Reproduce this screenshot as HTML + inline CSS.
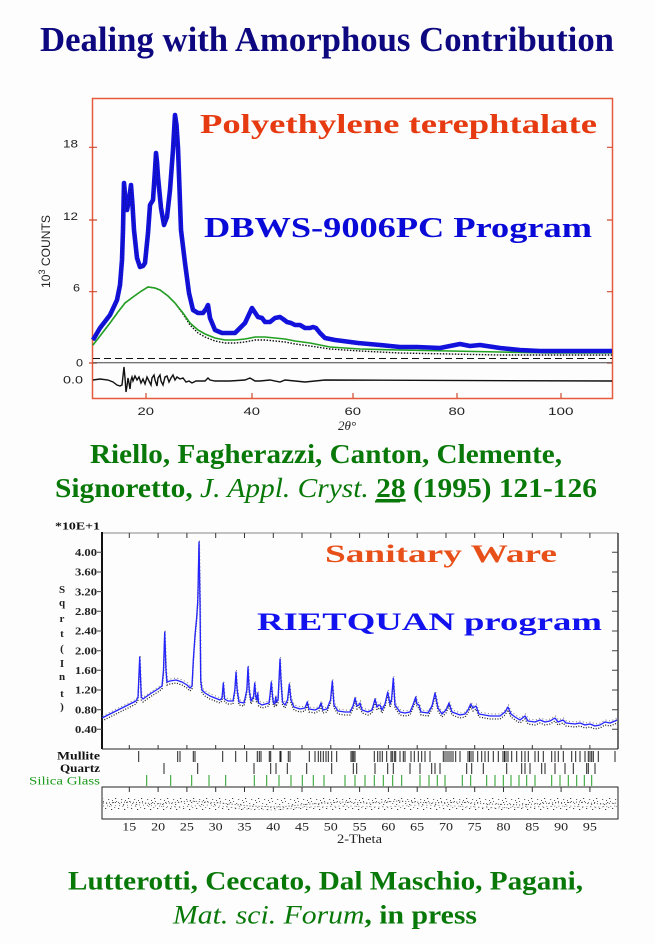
<!DOCTYPE html>
<html>
<head>
<meta charset="utf-8">
<style>
  html,body{margin:0;padding:0;background:#fdfdfd;}
  svg{display:block;}
  .serif{font-family:"Liberation Serif","Times New Roman",serif;}
  .sans{font-family:"Liberation Sans",Arial,sans-serif;}
</style>
</head>
<body>
<svg width="655" height="944" viewBox="0 0 655 944" xmlns="http://www.w3.org/2000/svg">
  <defs>
    <pattern id="noise" x="0" y="0" width="13" height="13" patternUnits="userSpaceOnUse">
      <rect x="1" y="2" width="1.2" height="1" fill="#444"/>
      <rect x="4" y="6" width="1.2" height="1" fill="#666"/>
      <rect x="7" y="3" width="1.2" height="1" fill="#333"/>
      <rect x="9" y="9" width="1.2" height="1" fill="#555"/>
      <rect x="11" y="5" width="1.2" height="1" fill="#444"/>
      <rect x="2" y="10" width="1.2" height="1" fill="#777"/>
      <rect x="6" y="11" width="1.2" height="1" fill="#555"/>
      <rect x="10" y="1" width="1.2" height="1" fill="#888"/>
      <rect x="5" y="0" width="1.2" height="1" fill="#999"/>
      <rect x="12" y="8" width="1" height="1" fill="#666"/>
      <rect x="8" y="7" width="1" height="1" fill="#555"/>
    </pattern>
    <path id="calc" d="M102,718 L110,714 L120,709 L130,704 L136,701 L138,697 L139.7,657 L141.3,697 L143,699 L150,694 L158,689 L162,686 L163.5,670 L164.7,632 L166,670 L167,682 L170,681 L176,680 L182,682 L187,685 L190,688 L192,686 L193.3,660 L195,635 L196.7,617 L197.8,600 L199,542 L200,600 L200.7,680 L202,690 L205,693 L210,696 L215,698 L220,700 L222,698 L223.3,683 L224.6,699 L228,701 L233,701 L234.8,690 L236,672 L237.2,690 L239,702 L244,703 L246.8,690 L248,667 L249.2,690 L251,701 L253.5,697 L254.7,683 L255.9,697 L256.8,700 L257.7,693 L258.6,703 L262,705 L269,703 L270,695 L271.3,682 L272.6,697 L273.5,703 L274.8,704 L275.7,697 L276.6,702 L278,700 L279,680 L280,659 L281,680 L282.5,702 L285,705 L287.5,700 L289.3,684 L291,700 L294,707 L300,709 L305,708 L307.3,702 L309,709 L315,710 L319,708 L321,703 L323,710 L327,709 L329.3,703 L330.5,700 L332.3,681 L334,705 L338,711 L345,712 L350,712 L353,706 L355,698 L357,706 L359,705 L360,703 L362,710 L368,712 L372,710 L375,699 L377,707 L379,705 L380,705 L382,710 L385,704 L387.7,692 L390,704 L391.5,700 L393.3,678 L395,705 L400,712 L405,713 L410,712 L413,705 L415.7,697 L417,704 L419,705 L421,712 L428,713 L432,706 L435,693 L438,708 L442,714 L446,710 L449,703 L452,712 L460,715 L465,714 L468,710 L470.7,704 L473,708 L476,706 L479,714 L490,716 L500,716 L505,712 L508,707 L511,714 L515,717 L520,720 L525,716 L528,721 L535,722 L540,720 L545,722 L550,721 L555,718 L558,722 L563,720 L566,723 L575,724 L580,723 L585,725 L590,724 L595,726 L600,725 L605,722 L610,723 L615,721 L617,720"/>
  </defs>

  <rect x="0" y="0" width="655" height="944" fill="#fdfdfd"/>

  <!-- Title -->
  <text class="serif" x="40" y="51" font-size="35" font-weight="bold" fill="#0d0880" textLength="574" lengthAdjust="spacingAndGlyphs">Dealing with Amorphous Contribution</text>

  <!-- ================= TOP CHART ================= -->
  <rect x="92.5" y="98.5" width="520" height="300" fill="none" stroke="#e55a3c" stroke-width="1.5"/>
  <g stroke="#d04a30" stroke-width="1.2">
    <path d="M89,147.3H97M89,220H97M89,291.7H97M89,363H97"/>
    <path d="M607,147.3H612M607,220H612M607,291.7H612M607,363H612"/>
    <path d="M146,393V398M252,393V398M353,393V398M457,393V398M561,393V398"/>
  </g>
  <g class="sans" font-size="11" fill="#222">
    <text x="63" y="147.3" textLength="15" lengthAdjust="spacingAndGlyphs">18</text>
    <text x="63" y="220" textLength="15" lengthAdjust="spacingAndGlyphs">12</text>
    <text x="73" y="291.7" textLength="7" lengthAdjust="spacingAndGlyphs">6</text>
    <text x="76" y="366.5" textLength="7" lengthAdjust="spacingAndGlyphs">0</text>
    <text x="63" y="383.3" textLength="20" lengthAdjust="spacingAndGlyphs">0.0</text>
    <text x="137.5" y="415" textLength="16.5" lengthAdjust="spacingAndGlyphs">20</text>
    <text x="243.5" y="415" textLength="16.5" lengthAdjust="spacingAndGlyphs">40</text>
    <text x="344.5" y="415" textLength="16.5" lengthAdjust="spacingAndGlyphs">60</text>
    <text x="448.5" y="415" textLength="16.5" lengthAdjust="spacingAndGlyphs">80</text>
    <text x="548" y="415" textLength="25.5" lengthAdjust="spacingAndGlyphs">100</text>
  </g>
  <text class="sans" font-size="12" fill="#222" transform="translate(50,288) rotate(-90)" x="0" y="0" textLength="73" lengthAdjust="spacingAndGlyphs">10<tspan dy="-5" font-size="9">3</tspan><tspan dy="5"> COUNTS</tspan></text>
  <text class="serif" font-size="13" font-style="italic" fill="#222" x="347" y="430" text-anchor="middle">2θ°</text>

  <path d="M93,362.7H612" stroke="#444" stroke-width="1"/>
  <path d="M93,358.5H612" stroke="#111" stroke-width="1.1" stroke-dasharray="7 4"/>

  <polyline fill="none" stroke="#111" stroke-width="1.4" stroke-dasharray="1.5 1.5" points="93,345 100,336 110,323 118,312 125,303 133,297 140,292 148,287 155,288 160,290 168,296 175,303 183,314 190,325 198,333 205,337 215,341 225,343 235,343 245,342 255,340 265,340 275,341 285,342 295,344 310,346 330,349 360,351 400,353 450,354 500,355 550,355 612,355"/>
  <polyline fill="none" stroke="#22a022" stroke-width="1.6" points="93,345 100,336 110,323 118,312 125,303 133,297 140,292 148,287 155,288 160,290 168,296 175,303 183,313 190,323 198,330 205,334 215,338 225,340 235,340 245,339 255,337 265,337 275,338 285,339 295,341 310,343 330,347 360,349 400,350 450,351 500,352 550,353 612,353"/>
  <polyline fill="none" stroke="#1212dc" stroke-width="4.6" stroke-linejoin="round" points="93,340 100,328 110,315 117,300 120,285 122,260 123,230 124,183 125.5,200 127,210 129,200 131,185 132.5,205 134,230 137,258 140,267 143,266 145,263 148,233 150,205 153,200 155,170 156,153 157,162 158,177 161,208 164,225 167,217 170,190 173,150 175,115 176.5,125 178,148 181,230 185,263 189,293 193,310 198,313 203,313 206,309 208,305 210,318 215,330 222,333 235,333 245,323 252,308 258,317 262,318 265,322 270,322 275,318 280,317 283,319 287,322 291,323 295,325 300,325 305,328 310,328 313,327 316,328 320,333 325,338 335,340 358,343 380,345 390,346 400,347 417,347 440,348 455,345 460,344 470,346 480,345 500,348 520,350 540,351 560,351 612,351"/>
  <polyline fill="none" stroke="#0a0a70" stroke-width="0.6" stroke-dasharray="1.5 1.5" points="93,341 100,329 110,316 117,301 120,286 122,261 123,231 124,185 125.5,201 127,211 129,201 131,187 132.5,206 134,231 137,259 140,268 143,267 145,264 148,234 150,206 153,201 155,171 156,155 157,163 158,178 161,209 164,226 167,218 170,191 173,151 175,117 176.5,126 178,149 181,231 185,264 189,294 193,311 198,314 203,314 206,310 208,306 210,319 215,331 222,334 235,334"/>

  <polyline fill="none" stroke="#111" stroke-width="1.4" points="93,380 100,379 108,380 113,382 117,385 120,386 122,385 123,376 124,367 125,378 126,392 127,386 128,378 129,383 130,389 131,380 132,377 133,381 135,376 137,380 139,377 141,383 143,379 145,384 147,377 149,381 151,385 152,378 154,375 155,380 157,386 158,378 160,375 161,381 163,385 165,377 167,376 169,382 171,378 173,375 175,380 177,377 180,379 183,378 186,382 189,381 192,383 196,381 200,381 205,381 208,378 210,380 215,381 230,381 245,380 250,378 255,381 260,381 270,380 280,382 285,380 295,381 305,382 315,381 325,380 612,381"/>

  <text class="serif" x="200" y="133" font-size="27" font-weight="bold" fill="#e63a10" textLength="397" lengthAdjust="spacingAndGlyphs">Polyethylene terephtalate</text>
  <text class="serif" x="204" y="237" font-size="28" font-weight="bold" fill="#0a0ad8" textLength="388" lengthAdjust="spacingAndGlyphs">DBWS-9006PC Program</text>

  <text class="serif" x="90" y="463" font-size="27" font-weight="bold" fill="#087808" textLength="472" lengthAdjust="spacingAndGlyphs">Riello, Fagherazzi, Canton, Clemente,</text>
  <text class="serif" x="55" y="497" font-size="27" font-weight="bold" fill="#087808" textLength="542" lengthAdjust="spacingAndGlyphs">Signoretto, <tspan font-style="italic" font-weight="normal">J. Appl. Cryst.</tspan> <tspan text-decoration="underline">28</tspan> (1995) 121-126</text>
  <rect x="375" y="500.5" width="25" height="2" fill="#087808"/>

  <!-- ================= BOTTOM CHART ================= -->
  <text class="serif" x="55" y="529.3" font-size="11" font-weight="bold" fill="#111" textLength="45" lengthAdjust="spacingAndGlyphs">*10E+1</text>
  <path d="M102,533H618" stroke="#888" stroke-width="1"/>
  <path d="M102,532V749" stroke="#111" stroke-width="2"/>
  <path d="M618,533V749" stroke="#222" stroke-width="1.3"/>
  <path d="M102,749H618" stroke="#222" stroke-width="1"/>
  <rect x="102" y="787" width="516" height="32" fill="none" stroke="#222" stroke-width="1"/>

  <g stroke="#444" stroke-width="1">
    <path d="M97,552.3H102M97,572H102M97,591.6H102M97,611.3H102M97,631H102M97,650.7H102M97,670.3H102M97,690H102M97,709.7H102M97,729.3H102"/>
    <path d="M612,552.3H618M612,572H618M612,591.6H618M612,611.3H618M612,631H618M612,650.7H618M612,670.3H618M612,690H618M612,709.7H618M612,729.3H618"/>
  </g>
  <g class="serif" font-size="11" font-weight="bold" fill="#222">
    <text x="75" y="556" textLength="22" lengthAdjust="spacingAndGlyphs">4.00</text>
    <text x="75" y="575.7" textLength="22" lengthAdjust="spacingAndGlyphs">3.60</text>
    <text x="75" y="595.3" textLength="22" lengthAdjust="spacingAndGlyphs">3.20</text>
    <text x="75" y="615" textLength="22" lengthAdjust="spacingAndGlyphs">2.80</text>
    <text x="75" y="634.7" textLength="22" lengthAdjust="spacingAndGlyphs">2.40</text>
    <text x="75" y="654.4" textLength="22" lengthAdjust="spacingAndGlyphs">2.00</text>
    <text x="75" y="674" textLength="22" lengthAdjust="spacingAndGlyphs">1.60</text>
    <text x="75" y="693.7" textLength="22" lengthAdjust="spacingAndGlyphs">1.20</text>
    <text x="75" y="713.4" textLength="22" lengthAdjust="spacingAndGlyphs">0.80</text>
    <text x="75" y="733" textLength="22" lengthAdjust="spacingAndGlyphs">0.40</text>
  </g>
  <g class="serif" font-size="11" font-weight="bold" fill="#222" text-anchor="middle">
    <text x="62" y="593">S</text>
    <text x="62" y="606">q</text>
    <text x="62" y="622">r</text>
    <text x="62" y="637">t</text>
    <text x="62" y="652">(</text>
    <text x="62" y="667">I</text>
    <text x="62" y="680">n</text>
    <text x="62" y="697">t</text>
    <text x="62" y="710">)</text>
  </g>

  <g stroke="#333" stroke-width="1">
    <path d="M129.3,533v5M158.1,533v5M186.9,533v5M215.7,533v5M244.5,533v5M273.3,533v5M302,533v5M330.8,533v5M359.6,533v5M388.4,533v5M417.2,533v5M446,533v5M474.7,533v5M503.5,533v5M532.3,533v5M561.1,533v5M589.9,533v5"/>
    <path d="M129.3,745v4M158.1,745v4M186.9,745v4M215.7,745v4M244.5,745v4M273.3,745v4M302,745v4M330.8,745v4M359.6,745v4M388.4,745v4M417.2,745v4M446,745v4M474.7,745v4M503.5,745v4M532.3,745v4M561.1,745v4M589.9,745v4"/>
    <path d="M129.3,787v5M158.1,787v5M186.9,787v5M215.7,787v5M244.5,787v5M273.3,787v5M302,787v5M330.8,787v5M359.6,787v5M388.4,787v5M417.2,787v5M446,787v5M474.7,787v5M503.5,787v5M532.3,787v5M561.1,787v5M589.9,787v5"/>
  </g>
  <g class="serif" font-size="11.5" fill="#222">
    <text x="122.3" y="830.5" textLength="14" lengthAdjust="spacingAndGlyphs">15</text>
    <text x="151.1" y="830.5" textLength="14" lengthAdjust="spacingAndGlyphs">20</text>
    <text x="179.9" y="830.5" textLength="14" lengthAdjust="spacingAndGlyphs">25</text>
    <text x="208.7" y="830.5" textLength="14" lengthAdjust="spacingAndGlyphs">30</text>
    <text x="237.5" y="830.5" textLength="14" lengthAdjust="spacingAndGlyphs">35</text>
    <text x="266.3" y="830.5" textLength="14" lengthAdjust="spacingAndGlyphs">40</text>
    <text x="295" y="830.5" textLength="14" lengthAdjust="spacingAndGlyphs">45</text>
    <text x="323.8" y="830.5" textLength="14" lengthAdjust="spacingAndGlyphs">50</text>
    <text x="352.6" y="830.5" textLength="14" lengthAdjust="spacingAndGlyphs">55</text>
    <text x="381.4" y="830.5" textLength="14" lengthAdjust="spacingAndGlyphs">60</text>
    <text x="410.2" y="830.5" textLength="14" lengthAdjust="spacingAndGlyphs">65</text>
    <text x="439" y="830.5" textLength="14" lengthAdjust="spacingAndGlyphs">70</text>
    <text x="467.7" y="830.5" textLength="14" lengthAdjust="spacingAndGlyphs">75</text>
    <text x="496.5" y="830.5" textLength="14" lengthAdjust="spacingAndGlyphs">80</text>
    <text x="525.3" y="830.5" textLength="14" lengthAdjust="spacingAndGlyphs">85</text>
    <text x="554.1" y="830.5" textLength="14" lengthAdjust="spacingAndGlyphs">90</text>
    <text x="582.9" y="830.5" textLength="14" lengthAdjust="spacingAndGlyphs">95</text>
  </g>
  <text class="serif" x="337" y="843" font-size="12.5" fill="#222" textLength="45" lengthAdjust="spacingAndGlyphs">2-Theta</text>

  <use href="#calc" fill="none" stroke="#222" stroke-width="1.3" stroke-dasharray="1 1.6" transform="translate(0,3)"/>
  <use href="#calc" fill="none" stroke="#777" stroke-width="1" stroke-dasharray="1 2.5" transform="translate(0.5,-2)"/>
  <use href="#calc" fill="none" stroke="#2424ff" stroke-width="1.3" stroke-linejoin="round"/>

  <g class="serif" font-size="11.5" font-weight="bold">
    <text x="57" y="759.5" fill="#111" textLength="43" lengthAdjust="spacingAndGlyphs">Mullite</text>
    <text x="60" y="772" fill="#111" textLength="40" lengthAdjust="spacingAndGlyphs">Quartz</text>
    <text x="29" y="784.5" fill="#1a9a1a" font-weight="normal" textLength="71" lengthAdjust="spacingAndGlyphs">Silica Glass</text>
  </g>
  <path stroke="#222" stroke-width="1" fill="none" d="M138.7 751v11M177.7 751v11M180 751v11M193.3 751v11M195 751v11M222.7 751v11M235.7 751v11M246.7 751v11M257.3 751v11M259.3 751v11M261 751v11M269.3 751v11M270.7 751v11M280 751v11M281 751v11M288.3 751v11M290 751v11M309.3 751v11M315 751v11M318.3 751v11M320.7 751v11M323.3 751v11M326 751v11M328.3 751v11M331.7 751v11M336.7 751v11M351 751v11M352.3 751v11M353.7 751v11M355 751v11M374.3 751v11M377.7 751v11M380 751v11M382.3 751v11M386.7 751v11M391 751v11M392.3 751v11M394.3 751v11M395.7 751v11M400 751v11M403.3 751v11M405 751v11M411 751v11M414.3 751v11M418.3 751v11M421.7 751v11M425 751v11M430 751v11M443.3 751v11M445 751v11M447 751v11M449 751v11M451 751v11M453 751v11M455.7 751v11M460 751v11M468 751v11M469.5 751v11M471 751v11M473 751v11M477.7 751v11M481.7 751v11M485 751v11M488.3 751v11M493.3 751v11M498.3 751v11M503 751v11M504.5 751v11M506 751v11M508 751v11M511.7 751v11M516.7 751v11M521.7 751v11M525 751v11M528.3 751v11M535 751v11M538.3 751v11M543.3 751v11M551.7 751v11M555 751v11M558.3 751v11M563.3 751v11M571.7 751v11M575.7 751v11M580 751v11M585 751v11M588.3 751v11M590 751v11M591.7 751v11M593.3 751v11M598.3 751v11M615 751v11"/>
  <path stroke="#222" stroke-width="1" fill="none" d="M164 763v11M197.7 763v11M254 763v11M270.7 763v11M276 763v11M287.3 763v11M306.7 763v11M331.7 763v11M353.3 763v11M356.7 763v11M375 763v11M387.7 763v11M393.3 763v11M410 763v11M420 763v11M431.7 763v11M435 763v11M440 763v11M466.7 763v11M471.7 763v11M483.3 763v11M506.7 763v11M521.7 763v11M525 763v11M530 763v11M541.7 763v11M545 763v11M555 763v11M565 763v11M573.3 763v11M586.7 763v11M588.3 763v11M595 763v11"/>
  <path stroke="#22a022" stroke-width="1" fill="none" d="M146.7 775v11M170.7 775v11M191.7 775v11M209 775v11M225.7 775v11M254.3 775v11M266.7 775v11M279 775v11M291 775v11M302.3 775v11M313.3 775v11M324 775v11M345 775v11M355 775v11M365 775v11M374.3 775v11M383.3 775v11M392.7 775v11M401.7 775v11M420 775v11M429 775v11M437.3 775v11M445 775v11M462.3 775v11M470.7 775v11M486.7 775v11M495 775v11M503.3 775v11M511 775v11M519 775v11M526.7 775v11M535 775v11M551.7 775v11M560 775v11M568.3 775v11M576.7 775v11M584.3 775v11M591.7 775v11"/>

  <rect x="103" y="797" width="514" height="13" fill="url(#noise)"/>
  <polyline fill="none" stroke="#555" stroke-width="1" stroke-dasharray="1 2" points="103,803 130,802 160,804 190,801 220,803 250,806 280,807 310,804 340,802 370,803 400,801 430,803 460,802 490,804 520,805 550,803 580,802 600,804 617,803"/>
  <polyline fill="none" stroke="#888" stroke-width="1" stroke-dasharray="1 3" points="103,806 140,805 175,807 210,805 245,809 275,810 305,807 345,806 380,807 420,805 455,806 495,808 530,807 565,806 600,807 617,806"/>

  <text class="serif" x="325" y="562" font-size="25" font-weight="bold" fill="#e8501a" textLength="232" lengthAdjust="spacingAndGlyphs">Sanitary Ware</text>
  <text class="serif" x="257" y="630" font-size="25" font-weight="bold" fill="#1212ee" textLength="345" lengthAdjust="spacingAndGlyphs">RIETQUAN program</text>

  <text class="serif" x="68" y="889.5" font-size="26.5" font-weight="bold" fill="#087808" textLength="515" lengthAdjust="spacingAndGlyphs">Lutterotti, Ceccato, Dal Maschio, Pagani,</text>
  <text class="serif" x="173" y="923.3" font-size="26.5" font-weight="bold" fill="#087808" textLength="304" lengthAdjust="spacingAndGlyphs"><tspan font-style="italic" font-weight="normal">Mat. sci. Forum</tspan>, in press</text>
</svg>
</body>
</html>
